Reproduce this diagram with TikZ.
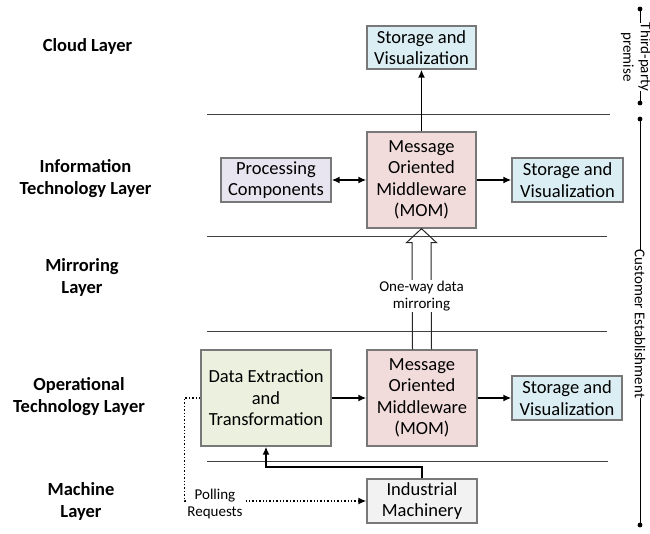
\documentclass[tikz,border=0pt]{standalone}
\usepackage{fontspec}
\setmainfont{Carlito}
\usetikzlibrary{arrows.meta,calc}
\definecolor{bluef}{RGB}{219,238,244}
\definecolor{pinkf}{RGB}{242,220,219}
\definecolor{lavf}{RGB}{233,229,240}
\definecolor{greenf}{RGB}{235,241,222}
\definecolor{grayf}{RGB}{242,242,242}
\definecolor{bord}{RGB}{120,120,120}
\begin{document}
\begin{tikzpicture}[x=1pt,y=-1pt,
  box/.style={draw=bord,line width=1.3pt,align=center,inner sep=0pt,font=\fontsize{18.5}{21.5}\selectfont},
  lay/.style={align=center,inner sep=0pt,font=\fontsize{18.5}{22}\selectfont\bfseries},
  arr/.style={line width=1.8pt,-{Latex[length=8pt,width=7pt]}},
  sep/.style={line width=0.8pt,draw=black!75},
  small/.style={font=\fontsize{15}{17.5}\selectfont,align=center,inner sep=1pt}]
\useasboundingbox (0,0) rectangle (650,533);

% separators
\draw[sep] (207,114) -- (610,114);
\draw[sep] (207,236) -- (607,236);
\draw[sep] (207,331) -- (607,331);
\draw[sep] (207,461) -- (608,461);

% layer labels
\node[lay] (lcloud) at (87.5,46) {Cloud Layer};
\node[lay] (lit) at (85.5,179) {Information\\Technology Layer};
\node[lay] (lmir) at (82,277.5) {Mirroring\\Layer};
\node[lay] (lot) at (79,397) {Operational\\Technology Layer};
\node[lay] (lmach) at (81,501) {Machine\\Layer};

% boxes
\node[box,fill=bluef,minimum width=109pt,minimum height=43pt] (cloudst) at (421.5,47.5) {Storage and\\Visualization};
\node[box,fill=pinkf,minimum width=109pt,minimum height=96pt] (momit) at (421.5,180) {Message\\Oriented\\Middleware\\(MOM)};
\node[box,fill=lavf,minimum width=110pt,minimum height=44pt] (proc) at (276,180) {Processing\\Components};
\node[box,fill=bluef,minimum width=111pt,minimum height=44pt] (stit) at (567.5,180) {Storage and\\Visualization};
\node[box,fill=greenf,minimum width=130pt,minimum height=96pt] (det) at (266,398) {Data Extraction\\and\\Transformation};
\node[box,fill=pinkf,minimum width=110pt,minimum height=96pt] (momot) at (422,398) {Message\\Oriented\\Middleware\\(MOM)};
\node[box,fill=bluef,minimum width=110pt,minimum height=44pt] (stot) at (567,398) {Storage and\\Visualization};
\node[box,fill=grayf,minimum width=110pt,minimum height=44pt] (im) at (422,501) {Industrial\\Machinery};

% connectors
\draw[arr] (momit.north) -- (cloudst.south);
\draw[line width=1.8pt,{Latex[length=8pt,width=7pt]}-{Latex[length=8pt,width=7pt]}] (proc.east) -- (momit.west);
\draw[arr] (momit.east) -- (stit.west);
\draw[arr] (det.east) -- (momot.west);
\draw[arr] (momot.east) -- (stot.west);
\draw[arr] (im.north) -- ++(0,-11) -| (det.south);
\draw[line width=1.4pt,dotted,-{Latex[length=8pt,width=7pt]}] (det.west) -- ++(-16,0) |- (im.west);
\node[small,fill=white] (poll) at (215,504) {Polling\\Requests};

% mirroring block arrow
\draw[line width=1pt,draw=black!85]
  ($(momot.north)+(-9.5,0)$) -- ($(momit.south)+(-9.5,14)$) -- ($(momit.south)+(-15,14)$)
  -- (momit.south) -- ($(momit.south)+(15,14)$) -- ($(momit.south)+(9.5,14)$)
  -- ($(momot.north)+(9.5,0)$);
\node[small,fill=white] (mirtxt) at (421.5,296) {One-way data\\mirroring};

% right brackets
\coordinate (ta) at (640,9);
\coordinate (tb) at (640,103);
\coordinate (ca) at (640,119);
\coordinate (cb) at (640,525);
\draw[line width=0.8pt] (ta) -- (tb);
\draw[line width=0.8pt] (ca) -- (cb);
\foreach \p in {ta,tb,ca,cb} \fill (\p) circle (2.4pt);
\node[small,fill=white,rotate=-90,inner sep=0pt] (third) at (636,57) {Third-party\\premise};
\node[small,fill=white,rotate=-90,inner sep=0pt] (cust) at (640,324) {Customer Establishment};
\end{tikzpicture}
\end{document}
